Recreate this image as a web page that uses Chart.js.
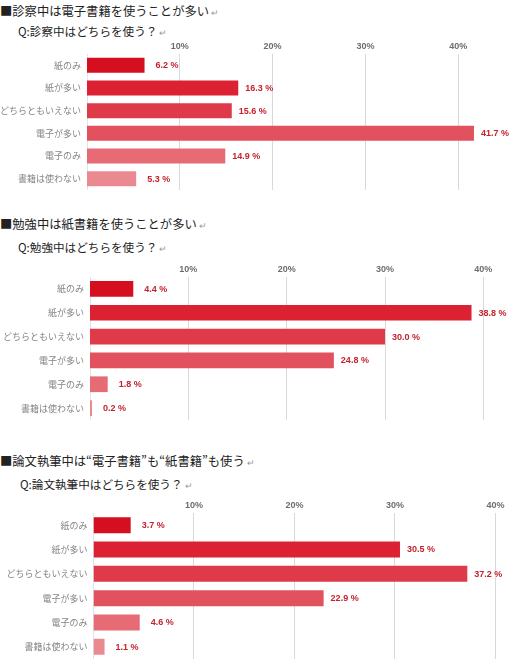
<!DOCTYPE html>
<html lang="ja">
<head>
<meta charset="utf-8">
<script src="https://cdn.jsdelivr.net/npm/chart.js@4"></script>
<style>
  html,body{margin:0;padding:0;background:#fff;}
  body{position:relative;width:517px;height:666px;overflow:hidden;font-family:"Noto Sans CJK JP","Noto Sans",sans-serif;}
  .t{position:absolute;left:0;font-size:11.6px;line-height:16px;color:#222;white-space:nowrap;}
  .t.h{font-size:12.3px;}
  .t .r{color:#999;font-size:9px;margin-left:2px;}
  canvas{position:absolute;left:0;}
</style>
</head>
<body>
<div class="t h" id="h1" style="top:3px"></div>
<div class="t" id="q1" style="top:23px;left:18px"></div>
<canvas id="c1" width="517" height="156" style="top:34px"></canvas>

<div class="t h" id="h2" style="top:216px"></div>
<div class="t" id="q2" style="top:239px;left:18px"></div>
<canvas id="c2" width="517" height="163" style="top:257px"></canvas>

<div class="t h" id="h3" style="top:453px"></div>
<div class="t" id="q3" style="top:476px;left:20px"></div>
<canvas id="c3" width="517" height="166" style="top:493px"></canvas>

<script>
// categories shared by all three panels
const categories=['紙のみ','紙が多い','どちらともいえない','電子が多い','電子のみ','書籍は使わない'];
// percent per panel
const shinsatsu=[6.2,16.3,15.6,41.7,14.9,5.3];
const benkyou=[4.4,38.8,30.0,24.8,1.8,0.2];
const ronbun=[3.7,30.5,37.2,22.9,4.6,1.1];
const tickValues=[10,20,30,40];
const headings=['■診察中は電子書籍を使うことが多い','■勉強中は紙書籍を使うことが多い','■論文執筆中は“電子書籍”も“紙書籍”も使う'];
const questions=['Q:診察中はどちらを使う？','Q:勉強中はどちらを使う？','Q:論文執筆中はどちらを使う？'];

const BAR_COLORS=['#d50f1f','#dc2232','#df3a49','#e2525e','#e66b75','#ea8990'];
const LABEL_RED='#c4222f', TICK_GREY='#6d6d6d', CAT_GREY='#858585', GRID='#d9d9d9';

headings.forEach((h,i)=>{
  document.getElementById('h'+(i+1)).innerHTML=h+'<span class="r">↵</span>';
  document.getElementById('q'+(i+1)).innerHTML=questions[i]+'<span class="r">↵</span>';
});

// value labels to the right of each bar
const valueLabels={id:'valueLabels',
  afterDatasetsDraw(chart){
    const ctx=chart.ctx, meta=chart.getDatasetMeta(0), data=chart.data.datasets[0].data;
    ctx.save();
    ctx.font='bold 9px "Liberation Sans",Arial,sans-serif';
    ctx.fillStyle=LABEL_RED; ctx.textBaseline='middle'; ctx.textAlign='left';
    meta.data.forEach((bar,i)=>{
      const gap=data[i]<10?11:7;
      ctx.fillText(data[i].toFixed(1)+' %',bar.x+gap,bar.y+0.5);
    });
    ctx.restore();
  }};

function panel(id,values,zeroX,max,right){
  new Chart(document.getElementById(id),{type:'bar',
    data:{labels:categories,datasets:[{data:values,backgroundColor:BAR_COLORS,borderWidth:0,
      barPercentage:0.66,categoryPercentage:1}]},
    options:{indexAxis:'y',animation:false,responsive:false,devicePixelRatio:1,
      layout:{padding:{left:0,right:517-right,top:0,bottom:0}},
      plugins:{legend:{display:false},tooltip:{enabled:false}},
      scales:{
        x:{position:'top',min:0,max:max,
          afterBuildTicks:s=>{s.ticks=tickValues.map(v=>({value:v}));},
          afterFit:s=>{s.height=20;s.paddingLeft=0;s.paddingRight=0;},
          ticks:{color:TICK_GREY,padding:2,callback:v=>v+'%',font:{family:'"Liberation Sans",Arial,sans-serif',size:9,weight:'bold'}},
          grid:{color:GRID,drawTicks:false},border:{display:false}},
        y:{afterFit:s=>{s.width=zeroX;s.paddingTop=0;s.paddingBottom=0;},
          ticks:{color:CAT_GREY,padding:6,font:{family:'"Noto Sans CJK JP",sans-serif',size:9}},
          grid:{display:false,drawTicks:false},border:{display:true,color:'#dfe5ec'}}
      }},
    plugins:[valueLabels]});
}

panel('c1',shinsatsu,87,45,504.6);
panel('c2',benkyou,90,42,503);
panel('c3',ronbun,93.5,41,505.5);
</script>
</body>
</html>
